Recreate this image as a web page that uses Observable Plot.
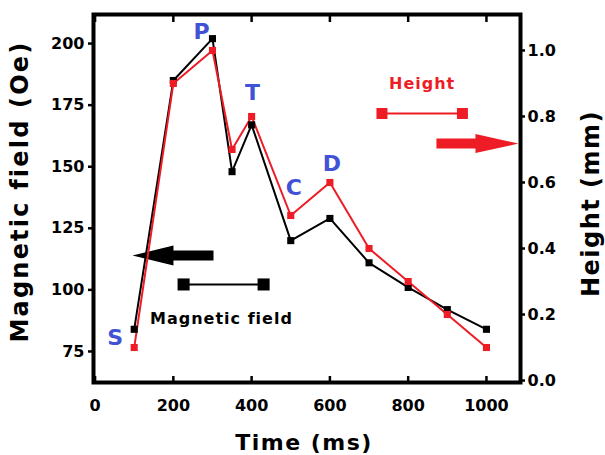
<!DOCTYPE html>
<html><head><meta charset="utf-8">
<script src="https://cdn.jsdelivr.net/npm/d3@7"></script>
<script src="https://cdn.jsdelivr.net/npm/@observablehq/plot@0.6"></script>
<style>
body{margin:0;background:#fff;}
svg text{font-family:"DejaVu Sans",sans-serif;font-weight:bold;}
</style></head><body><div id="chart"></div>
<script>
// ---- data ----
const times = [100,200,300,350,400,500,600,700,800,900,1000];
const fieldOe = [84,185,202,148,167,120,129,111,101,92,84];
const heightMm = [0.1,0.9,1.0,0.7,0.8,0.5,0.6,0.4,0.3,0.2,0.1];
const xTicks = [0,200,400,600,800,1000];
const fieldTicks = [75,100,125,150,175,200];
const heightTicks = [0,0.2,0.4,0.6,0.8,1.0];
const stageLabels = ["S","P","T","C","D"];
const stageTimes = [100,300,400,500,600];
const stageSeries = ["field","field","height","height","height"];

// right axis (height) mapped onto the field scale
const H0 = 63.2, HK = 134;
const h2f = h => H0 + HK * h;

const RED = "#ee1c25", BLUE = "#4252d6";
const fieldRows = times.map((t,i)=>({t, v: fieldOe[i]}));
const heightRows = times.map((t,i)=>({t, v: h2f(heightMm[i])}));

function arrow(tail, base, tip, yc, bodyHalf, headHalf){
  return [[tail,yc+bodyHalf],[base,yc+bodyHalf],[base,yc+headHalf],[tip,yc],
          [base,yc-headHalf],[base,yc-bodyHalf],[tail,yc-bodyHalf]];
}
const stageOffsets = {S:[-19,9], P:[-11,-7], T:[1,-24], C:[3,-28], D:[2,-19]};
const stageMarks = stageLabels.map((s,i)=>{
  const k = times.indexOf(stageTimes[i]);
  const v = stageSeries[i]==="field" ? fieldOe[k] : h2f(heightMm[k]);
  return Plot.text([s], {x: ()=>stageTimes[i], y: ()=>v, text: d=>d, fill: BLUE,
    fontSize: 22, fontWeight: "bold", dx: stageOffsets[s][0], dy: stageOffsets[s][1]});
});

const plot = Plot.plot({
  width: 605, height: 455,
  marginLeft: 93, marginRight: 85, marginTop: 14, marginBottom: 73,
  x: {domain: [-4, 1087]},
  y: {domain: [62.4, 211.8]},
  style: {fontFamily: "DejaVu Sans", fontSize: "16px", color: "black", background: "white"},
  marks: [
    Plot.axisY(fieldTicks, {anchor: "left", tickSize: 5, tickPadding: 4, strokeWidth: 2.5, fontSize: 16, fontWeight: "bold", label: null}),
    Plot.axisY(heightTicks.map(h2f), {anchor: "right", tickSize: 4, tickPadding: 3, strokeWidth: 2.5, fontSize: 16, fontWeight: "bold", label: null,
      tickFormat: f => ((f - H0) / HK).toFixed(1)}),
    Plot.axisX(xTicks, {anchor: "bottom", tickSize: -6, tickPadding: 23, strokeWidth: 2.5, fontSize: 16, fontWeight: "bold", label: null,
      tickFormat: d => String(d)}),
    Plot.axisX(xTicks, {anchor: "top", tickSize: -7, strokeWidth: 2.5, tickFormat: () => "", label: null}),
    Plot.frame({stroke: "black", strokeWidth: 4}),
    // legend / annotations
    Plot.line(arrow(302.6, 200.3, 95.6, 114.0, 2.03, 4.06), {fill: "black", stroke: "none"}),
    Plot.line(arrow(872.2, 971.9, 1081.7, 159.4, 2.03, 3.86), {fill: RED, stroke: "none"}),
    Plot.line([[226.2,102.2],[430.6,102.2]], {stroke: "black", strokeWidth: 2}),
    Plot.dot([[226.2,102.2],[430.6,102.2]], {symbol: "square", r: 6.8, fill: "black"}),
    Plot.line([[733,171.6],[938.6,171.6]], {stroke: RED, strokeWidth: 2}),
    Plot.dot([[733,171.6],[938.6,171.6]], {symbol: "square", r: 6.2, fill: RED}),
    Plot.text(["Magnetic field"], {x: ()=>323, y: ()=>88.4, fill: "black", fontSize: 16, fontWeight: "bold"}),
    Plot.text(["Height"], {x: ()=>835.7, y: ()=>183.8, fill: RED, fontSize: 16, fontWeight: "bold"}),
    // series
    Plot.line(fieldRows, {x: "t", y: "v", stroke: "black", strokeWidth: 2}),
    Plot.line(heightRows, {x: "t", y: "v", stroke: RED, strokeWidth: 2}),
    Plot.dot(fieldRows, {x: "t", y: "v", symbol: "square", r: 4, fill: "black"}),
    Plot.dot(heightRows, {x: "t", y: "v", symbol: "square", r: 4, fill: RED}),
    ...stageMarks,
    // axis titles
    Plot.text(["Magnetic field (Oe)"], {frameAnchor: "left", textAnchor: "middle", lineAnchor: "middle", rotate: -90, dx: -73, dy: -7, fontSize: 24, fontWeight: "bold"}),
    Plot.text(["Height (mm)"], {frameAnchor: "right", textAnchor: "middle", lineAnchor: "middle", rotate: -90, dx: 71, dy: 5, fontSize: 24, fontWeight: "bold"}),
    Plot.text(["Time (ms)"], {frameAnchor: "bottom", textAnchor: "middle", lineAnchor: "middle", dx: -3, dy: 60, fontSize: 22, fontWeight: "bold"})
  ]
});
document.getElementById("chart").appendChild(plot);
const spacing = {"Magnetic field (Oe)": "2.2px", "Height (mm)": "1.5px", "Time (ms)": "1.5px", "Magnetic field": "1px", "Height": "1px"};
d3.select(plot).selectAll("text").each(function(){
  const s = spacing[this.textContent];
  if (s) this.style.letterSpacing = s;
});
</script></body></html>
